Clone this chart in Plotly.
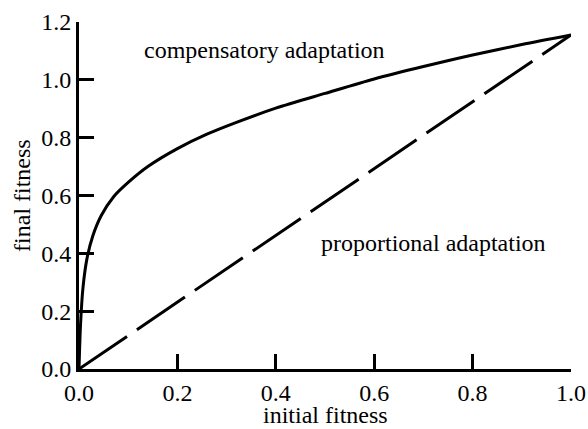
import plotly.graph_objects as go

# Data
comp_x = [0.0, 0.003, 0.008, 0.016, 0.028, 0.045, 0.070, 0.100, 0.140, 0.200, 0.260,
          0.320, 0.400, 0.500, 0.600, 0.700, 0.800, 0.900, 1.0]
comp_y = [0.0, 0.15, 0.28, 0.38, 0.46, 0.53, 0.595, 0.645, 0.700, 0.762, 0.812,
          0.853, 0.902, 0.953, 1.003, 1.046, 1.086, 1.122, 1.155]
prop_x = [0.0, 1.0]
prop_y = [0.0, 1.155]

x_ticks = [0.0, 0.2, 0.4, 0.6, 0.8, 1.0]
y_ticks = [0.0, 0.2, 0.4, 0.6, 0.8, 1.0, 1.2]

x_title = "initial fitness"
y_title = "final fitness"

FONT = "Liberation Serif"

fig = go.Figure()
fig.add_trace(go.Scatter(x=comp_x, y=comp_y, mode="lines",
                         line=dict(color="black", width=3, shape="spline", smoothing=0.8),
                         showlegend=False, hoverinfo="skip"))
fig.add_trace(go.Scatter(x=prop_x, y=prop_y, mode="lines",
                         line=dict(color="black", width=3, dash="58px,12px"),
                         showlegend=False, hoverinfo="skip"))

fig.add_annotation(x=0.378, y=1.104, text="compensatory adaptation", showarrow=False,
                   font=dict(family=FONT, size=24, color="black"))
fig.add_annotation(x=0.7215, y=0.436, text="proportional adaptation", showarrow=False,
                   font=dict(family=FONT, size=24, color="black"))

# axis titles placed as paper-anchored texts
fig.add_annotation(xref="paper", yref="paper", x=0.5, y=-0.132, text=x_title,
                   showarrow=False, xanchor="center", yanchor="middle",
                   font=dict(family=FONT, size=24, color="black"))
fig.add_annotation(xref="paper", yref="paper", x=-0.117, y=0.5, text=y_title,
                   showarrow=False, xanchor="center", yanchor="middle", textangle=-90,
                   font=dict(family=FONT, size=24, color="black"))

fig.update_layout(
    width=588, height=429,
    margin=dict(l=79, r=17, t=22, b=60, autoexpand=False),
    paper_bgcolor="white", plot_bgcolor="white",
    font=dict(family=FONT, size=24, color="black"),
    xaxis=dict(range=[0, 1.0], tickvals=x_ticks, ticktext=[f"{v:.1f}" for v in x_ticks],
               ticks="inside", ticklen=15, tickwidth=3, tickcolor="black",
               tickfont=dict(family=FONT, size=24, color="black"),
               showline=True, linewidth=3, linecolor="black", showgrid=False, zeroline=False,
               automargin=False),
    yaxis=dict(range=[0, 1.2], tickvals=y_ticks, ticktext=[f"{v:.1f}" for v in y_ticks],
               ticks="inside", ticklen=15, tickwidth=3, tickcolor="black",
               tickfont=dict(family=FONT, size=24, color="black"),
               showline=True, linewidth=3, linecolor="black", showgrid=False, zeroline=False,
               automargin=False),
)

fig.write_html("out.html")
